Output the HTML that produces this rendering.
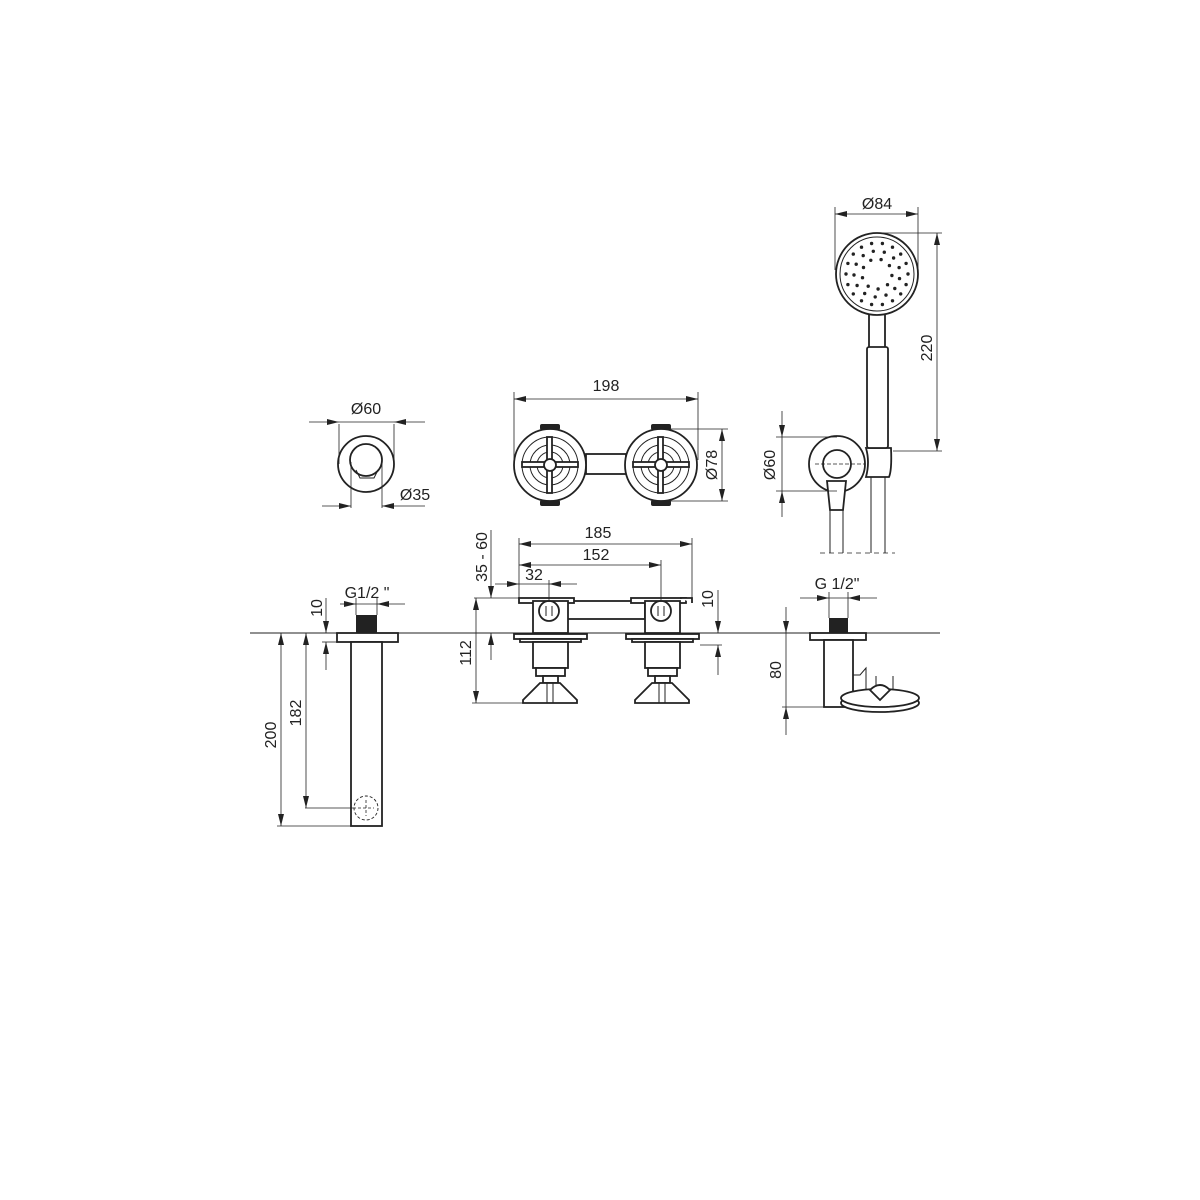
<!DOCTYPE html>
<html><head><meta charset="utf-8"><style>
html,body{margin:0;padding:0;background:#fff}
svg{display:block}
text{font-family:"Liberation Sans Narrow","Liberation Sans",sans-serif;font-size:16px;fill:#222;font-stretch:condensed}
.l{stroke:#222;stroke-width:1;fill:none}
.t{stroke:#222;stroke-width:1.8;fill:#fff}
.d{stroke:#222;stroke-width:0.8;fill:none}
</style></head><body>
<svg width="1200" height="1200" viewBox="0 0 1200 1200" xmlns="http://www.w3.org/2000/svg">
<defs>
<marker id="a" viewBox="0 0 12 6" refX="12" refY="3" markerWidth="12" markerHeight="6" orient="auto-start-reverse" markerUnits="userSpaceOnUse"><path d="M0,0L12,3L0,6z" fill="#222"/></marker>
</defs>
<line x1="250" y1="633" x2="940" y2="633" class="l"/>

<circle cx="366" cy="464" r="28" class="t"/>
<circle cx="366" cy="460" r="16" class="t"/>
<path d="M356,470 L360,478 L374,478 L378,470" class="l"/>
<line x1="339" y1="424" x2="339" y2="464" class="d"/><line x1="394" y1="424" x2="394" y2="464" class="d"/>
<line x1="309" y1="422" x2="339" y2="422" class="d" marker-end="url(#a)"/><line x1="425" y1="422" x2="394" y2="422" class="d" marker-end="url(#a)"/>
<line x1="339" y1="422" x2="394" y2="422" class="d"/>
<text x="366" y="414" text-anchor="middle">Ø60</text>
<line x1="351" y1="462" x2="351" y2="508" class="d"/><line x1="382" y1="462" x2="382" y2="508" class="d"/>
<line x1="322" y1="506" x2="351" y2="506" class="d" marker-end="url(#a)"/><line x1="425" y1="506" x2="382" y2="506" class="d" marker-end="url(#a)"/>
<text x="415" y="500" text-anchor="middle">Ø35</text>

<rect x="586" y="454" width="40" height="20" class="t"/>
<g id="knob">
<rect x="540" y="424" width="20" height="6" rx="2" fill="#222"/>
<rect x="540" y="500" width="20" height="6" rx="2" fill="#222"/>
<circle cx="550" cy="465" r="36" class="t"/>
<circle cx="550" cy="465" r="28" class="l"/>
<circle cx="550" cy="465" r="20" class="l"/>
<circle cx="550" cy="465" r="13" class="l"/>
<rect x="522" y="462" width="56" height="5" class="t" stroke-width="1"/>
<rect x="547" y="437" width="5" height="56" class="t" stroke-width="1"/>
<circle cx="550" cy="465" r="6" class="t" stroke-width="2.5"/>
</g>
<use href="#knob" x="111"/>
<line x1="514" y1="392" x2="514" y2="460" class="d"/><line x1="698" y1="392" x2="698" y2="460" class="d"/>
<line x1="514" y1="399" x2="698" y2="399" class="d" marker-start="url(#a)" marker-end="url(#a)"/>
<text x="606" y="391" text-anchor="middle">198</text>
<line x1="665" y1="429" x2="728" y2="429" class="d"/><line x1="665" y1="501" x2="728" y2="501" class="d"/>
<line x1="722" y1="429" x2="722" y2="501" class="d" marker-start="url(#a)" marker-end="url(#a)"/>
<text transform="translate(717,465) rotate(-90)" text-anchor="middle">Ø78</text>

<rect x="567" y="601" width="78" height="18" class="t"/>
<g id="valve">
<rect x="519" y="598" width="55" height="5" class="t" stroke-width="1.2"/>
<rect x="533" y="601" width="35" height="32" class="t"/>
<circle cx="549" cy="611" r="10" class="t" stroke-width="2.5"/>
<line x1="546" y1="606" x2="546" y2="616" class="l"/><line x1="552" y1="606" x2="552" y2="616" class="l"/>
<rect x="514" y="634" width="73" height="5" class="t" stroke-width="1.2"/>
<rect x="520" y="639" width="61" height="3" class="t" stroke-width="1"/>
<rect x="533" y="642" width="35" height="26" class="t"/>
<rect x="536" y="668" width="29" height="8" class="t" stroke-width="1.2"/>
<rect x="543" y="676" width="15" height="7" class="t" stroke-width="1.2"/>
<path d="M523,700 L540,683 L560,683 L577,700 L577,703 L523,703Z" class="t" stroke-width="1.4"/>
<line x1="547" y1="683" x2="547" y2="703" class="l"/><line x1="553" y1="683" x2="553" y2="703" class="l"/>
</g>
<use href="#valve" x="112"/>
<path d="M680,598 L692,598 L692,603" class="t" stroke-width="1.2"/>
<line x1="519" y1="538" x2="519" y2="598" class="d"/><line x1="692" y1="538" x2="692" y2="598" class="d"/>
<line x1="519" y1="544" x2="692" y2="544" class="d" marker-start="url(#a)" marker-end="url(#a)"/>
<text x="598" y="538" text-anchor="middle">185</text>
<line x1="661" y1="560" x2="661" y2="602" class="d"/>
<line x1="519" y1="565" x2="661" y2="565" class="d" marker-start="url(#a)" marker-end="url(#a)"/>
<text x="596" y="560" text-anchor="middle">152</text>
<line x1="549" y1="580" x2="549" y2="602" class="d"/>
<line x1="495" y1="584" x2="519" y2="584" class="d" marker-end="url(#a)"/><line x1="577" y1="584" x2="549" y2="584" class="d" marker-end="url(#a)"/>
<line x1="519" y1="584" x2="549" y2="584" class="d"/>
<text x="534" y="580" text-anchor="middle">32</text>
<line x1="474" y1="598" x2="520" y2="598" class="d"/>
<line x1="491" y1="530" x2="491" y2="598" class="d" marker-end="url(#a)"/>
<line x1="491" y1="660" x2="491" y2="633" class="d" marker-end="url(#a)"/>
<text transform="translate(487,557) rotate(-90)" text-anchor="middle">35 - 60</text>
<line x1="472" y1="703" x2="523" y2="703" class="d"/>
<line x1="476" y1="598" x2="476" y2="703" class="d" marker-start="url(#a)" marker-end="url(#a)"/>
<text transform="translate(471,653) rotate(-90)" text-anchor="middle">112</text>
<line x1="700" y1="645" x2="722" y2="645" class="d"/>
<line x1="718" y1="590" x2="718" y2="633" class="d" marker-end="url(#a)"/>
<line x1="718" y1="675" x2="718" y2="645" class="d" marker-end="url(#a)"/>
<text transform="translate(713,599) rotate(-90)" text-anchor="middle">10</text>

<rect x="356" y="615" width="21" height="18" fill="#222"/>
<rect x="337" y="633" width="61" height="9" class="t" stroke-width="1.2"/>
<rect x="351" y="642" width="31" height="184" class="t" stroke-width="1.4"/>
<circle cx="366" cy="808" r="12" fill="none" stroke="#222" stroke-width="0.9" stroke-dasharray="3,2"/>
<line x1="358" y1="808" x2="374" y2="808" class="d" stroke-dasharray="3,2"/><line x1="366" y1="800" x2="366" y2="816" class="d" stroke-dasharray="3,2"/>
<line x1="356" y1="598" x2="356" y2="615" class="d"/><line x1="377" y1="598" x2="377" y2="615" class="d"/>
<line x1="340" y1="604" x2="356" y2="604" class="d" marker-end="url(#a)"/><line x1="405" y1="604" x2="377" y2="604" class="d" marker-end="url(#a)"/>
<line x1="356" y1="604" x2="377" y2="604" class="d"/>
<text x="367" y="598" text-anchor="middle">G1/2 "</text>
<line x1="322" y1="642" x2="338" y2="642" class="d"/>
<line x1="326" y1="598" x2="326" y2="633" class="d" marker-end="url(#a)"/>
<line x1="326" y1="670" x2="326" y2="642" class="d" marker-end="url(#a)"/>
<text transform="translate(322,608) rotate(-90)" text-anchor="middle">10</text>
<line x1="277" y1="826" x2="351" y2="826" class="d"/>
<line x1="281" y1="633" x2="281" y2="826" class="d" marker-start="url(#a)" marker-end="url(#a)"/>
<text transform="translate(276,735) rotate(-90)" text-anchor="middle">200</text>
<line x1="305" y1="808" x2="356" y2="808" class="d"/>
<line x1="306" y1="633" x2="306" y2="808" class="d" marker-start="url(#a)" marker-end="url(#a)"/>
<text transform="translate(301,713) rotate(-90)" text-anchor="middle">182</text>

<rect x="829" y="618" width="19" height="15" fill="#222"/>
<rect x="810" y="633" width="56" height="7" class="t" stroke-width="1.2"/>
<rect x="824" y="640" width="29" height="67" class="t" stroke-width="1.3"/>
<path d="M853,675 L860,675 L866,668 L866,690" class="l"/>
<line x1="876" y1="676" x2="876" y2="690" class="l"/><line x1="893" y1="676" x2="893" y2="690" class="l"/>
<ellipse cx="880" cy="703" rx="39" ry="9" class="t" stroke-width="1.3"/>
<ellipse cx="880" cy="698" rx="39" ry="9" class="t" stroke-width="1.3"/>
<path d="M870,690 Q880,680 890,690 L880,700Z" class="t" stroke-width="1.4"/>
<line x1="829" y1="592" x2="829" y2="618" class="d"/><line x1="848" y1="592" x2="848" y2="618" class="d"/>
<line x1="800" y1="598" x2="829" y2="598" class="d" marker-end="url(#a)"/><line x1="877" y1="598" x2="848" y2="598" class="d" marker-end="url(#a)"/>
<line x1="829" y1="598" x2="848" y2="598" class="d"/>
<text x="837" y="589" text-anchor="middle">G 1/2"</text>
<line x1="782" y1="707" x2="824" y2="707" class="d"/>
<line x1="786" y1="607" x2="786" y2="633" class="d" marker-end="url(#a)"/>
<line x1="786" y1="735" x2="786" y2="707" class="d" marker-end="url(#a)"/>
<line x1="786" y1="633" x2="786" y2="707" class="d"/>
<text transform="translate(781,670) rotate(-90)" text-anchor="middle">80</text>

<line x1="830" y1="480" x2="830" y2="553" class="l"/><line x1="843" y1="480" x2="843" y2="553" class="l"/>
<line x1="871" y1="470" x2="871" y2="553" class="l"/><line x1="885" y1="470" x2="885" y2="553" class="l"/>
<line x1="820" y1="553" x2="895" y2="553" class="d" stroke-dasharray="5,4"/>
<circle cx="837" cy="464" r="28" class="t"/>
<path d="M827,481 L830,510 L843,510 L846,481Z" class="t" stroke-width="1.3"/>
<circle cx="837" cy="464" r="14" class="t"/>
<path d="M866,448 L891,448 Q892,470 889,477 L866,477 Q870,462 866,448Z" class="t" stroke-width="1.4"/>
<rect x="869" y="314" width="16" height="34" class="t" stroke-width="1.3"/>
<rect x="867" y="347" width="21" height="101" rx="2" class="t" stroke-width="1.4"/>
<circle cx="877" cy="274" r="41" class="t" stroke-width="2"/>
<circle cx="877" cy="274" r="37" class="l"/>
<g id="dots" fill="#222"></g>
<line x1="835" y1="207" x2="835" y2="270" class="d"/><line x1="918" y1="207" x2="918" y2="270" class="d"/>
<line x1="835" y1="214" x2="918" y2="214" class="d" marker-start="url(#a)" marker-end="url(#a)"/>
<text x="877" y="209" text-anchor="middle">Ø84</text>
<line x1="880" y1="233" x2="942" y2="233" class="d"/><line x1="893" y1="451" x2="942" y2="451" class="d"/>
<line x1="937" y1="233" x2="937" y2="451" class="d" marker-start="url(#a)" marker-end="url(#a)"/>
<text transform="translate(932,348) rotate(-90)" text-anchor="middle">220</text>
<line x1="776" y1="437" x2="837" y2="437" class="d"/><line x1="776" y1="491" x2="837" y2="491" class="d"/>
<line x1="815" y1="464" x2="865" y2="464" class="d" stroke-dasharray="4,2"/>
<line x1="782" y1="411" x2="782" y2="437" class="d" marker-end="url(#a)"/>
<line x1="782" y1="517" x2="782" y2="491" class="d" marker-end="url(#a)"/>
<line x1="782" y1="437" x2="782" y2="491" class="d"/>
<text transform="translate(775,465) rotate(-90)" text-anchor="middle">Ø60</text>
</svg>
<script>
var g=document.getElementById('dots'),s='';
[[31,18,0],[23,13,0.2],[15,9,0.1]].forEach(function(r){for(var i=0;i<r[1];i++){var a=2*Math.PI*i/r[1]+r[2];s+='<circle cx="'+(877+r[0]*Math.cos(a)).toFixed(1)+'" cy="'+(274+r[0]*Math.sin(a)).toFixed(1)+'" r="1.7"/>';}});
g.innerHTML=s;
</script>
</body></html>
